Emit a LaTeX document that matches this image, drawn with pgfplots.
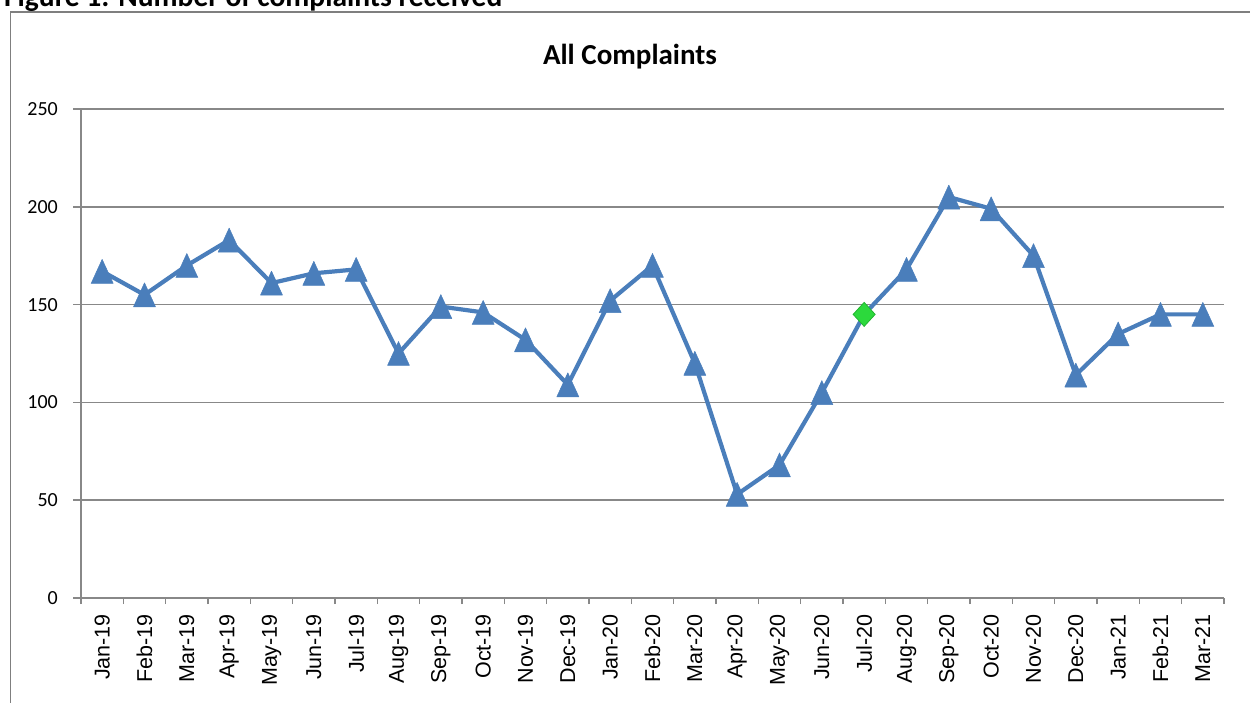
\documentclass[border=0pt]{standalone}
\usepackage{pgfplots}
\pgfplotsset{compat=1.18}
\usepackage{fontspec}
\setmainfont{Carlito}
\newfontfamily\arialfont{Liberation Sans}

\definecolor{lineblue}{HTML}{4A7EBB}
\definecolor{gridgray}{HTML}{888888}
\definecolor{markgreen}{HTML}{2CD93C}
\definecolor{markgreenedge}{HTML}{22B531}
\definecolor{framegray}{HTML}{7F7F7F}

% Spreadsheet-style markers, centred on their bounding box
\pgfdeclareplotmark{xltri}{%
  \pgfpathmoveto{\pgfqpoint{0pt}{12pt}}%
  \pgfpathlineto{\pgfqpoint{11pt}{-12pt}}%
  \pgfpathlineto{\pgfqpoint{-11pt}{-12pt}}%
  \pgfpathclose
  \pgfusepathqfillstroke}
\pgfdeclareplotmark{xldiamond}{%
  \pgfpathmoveto{\pgfqpoint{0pt}{12pt}}%
  \pgfpathlineto{\pgfqpoint{11pt}{0pt}}%
  \pgfpathlineto{\pgfqpoint{0pt}{-12pt}}%
  \pgfpathlineto{\pgfqpoint{-11pt}{0pt}}%
  \pgfpathclose
  \pgfusepathqfillstroke}

% Monthly complaints, Jan-19 (0) to Mar-21 (26)
\pgfplotstableread{
idx count
0 167
1 155
2 170
3 183
4 161
5 166
6 168
7 125
8 149
9 146
10 132
11 109
12 152
13 170
14 120
15 53
16 68
17 105
18 145
19 168
20 205
21 199
22 175
23 114
24 135
25 145
26 145
}\complaints

\begin{document}
\begin{tikzpicture}
\useasboundingbox (0pt,0pt) rectangle (1250pt,702pt);
\clip (0pt,0pt) rectangle (1250pt,702pt);

% figure caption and chart frame
\node[anchor=base west, inner sep=0pt] at (4pt,695pt)
  {\bfseries\fontsize{29.5}{34}\selectfont Figure 1: Number of complaints received};
\draw[framegray, line width=1.2pt] (10.5pt,-20pt) -- (10.5pt,690pt) -- (1270pt,690pt);

% chart title
\node[anchor=base, inner sep=0pt] at (630pt,637pt)
  {\bfseries\fontsize{29}{34}\selectfont All Complaints};

\begin{axis}[
  at={(81pt,104pt)}, anchor=south west,
  scale only axis, width=1143pt, height=489pt,
  xmin=-0.5, xmax=26.5, ymin=0, ymax=250,
  axis x line*=bottom, axis y line*=left,
  axis line style={gridgray, line width=1.5pt},
  ytick={0,50,...,250},
  ymajorgrids, grid style={gridgray, line width=1.5pt},
  tick align=outside,
  major tick length=8pt, minor tick length=6pt,
  y tick style={gridgray, line width=1.5pt},
  minor x tick style={gridgray, line width=1.5pt},
  major x tick style={draw=none},
  xtick={0,...,26},
  minor xtick={-0.5,0.5,...,26.5},
  xticklabels={Jan-19,Feb-19,Mar-19,Apr-19,May-19,Jun-19,Jul-19,Aug-19,Sep-19,Oct-19,Nov-19,Dec-19,
    Jan-20,Feb-20,Mar-20,Apr-20,May-20,Jun-20,Jul-20,Aug-20,Sep-20,Oct-20,Nov-20,Dec-20,
    Jan-21,Feb-21,Mar-21},
  % rotated labels: a negative xshift moves them down, away from the axis
  x tick label style={rotate=90, anchor=east, inner sep=0pt,
    font=\arialfont\fontsize{21.5}{24}\selectfont, xshift=-8pt},
  /pgf/number format/assume math mode=true,
  y tick label style={font=\fontsize{20}{24}\selectfont, inner sep=0pt, xshift=-15pt},
  clip=false,
]
\addplot[lineblue, line width=4.2pt, line join=round,
  mark=xltri, mark options={fill=lineblue, draw=lineblue, line width=0.5pt},
  mark indices={1,2,3,4,5,6,7,8,9,10,11,12,13,14,15,16,17,18,20,21,22,23,24,25,26,27}]
  table[x=idx, y=count] {\complaints};
\addplot[only marks, mark=xldiamond,
  mark options={fill=markgreen, draw=markgreenedge, line width=0.8pt}]
  coordinates {(18,145)};
\end{axis}
\end{tikzpicture}
\end{document}
